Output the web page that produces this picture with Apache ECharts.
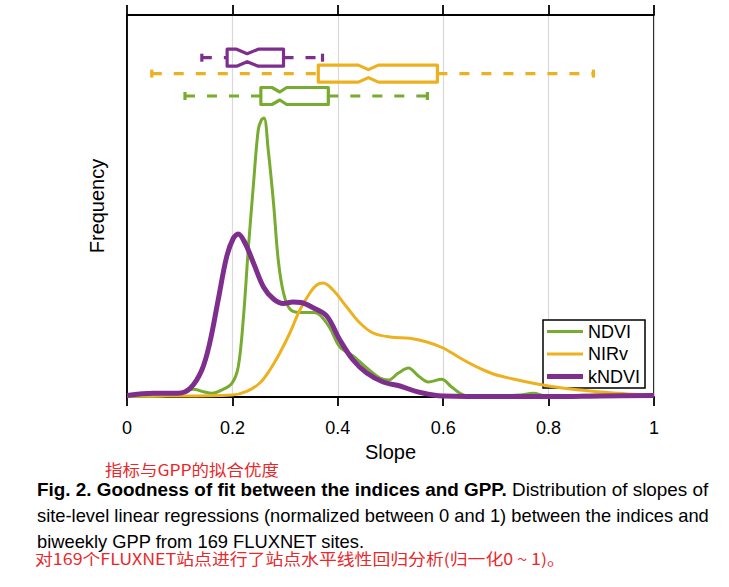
<!DOCTYPE html>
<html><head><meta charset="utf-8">
<script src="https://cdn.jsdelivr.net/npm/echarts@6/dist/echarts.min.js"></script>
<style>html,body{margin:0;padding:0;background:#fff}#c{width:729px;height:587px}</style>
</head><body><div id="c"></div>
<script>
// ---------- data ----------
const xTicks = [0, 0.2, 0.4, 0.6, 0.8, 1];
const seriesNames = ['NDVI', 'NIRv', 'kNDVI'];
// density curves: [slope, frequency]
const ndvi = [[0,0.5],[0.05,0.5],[0.1,3.5],[0.126,7.7],[0.145,5.3],[0.161,3.7],[0.18,7],[0.199,13.7],[0.211,30],[0.221,80],[0.230,147],[0.240,213],[0.249,267],[0.255,277],[0.260,279],[0.268,247],[0.278,194],[0.287,137],[0.297,104],[0.309,88],[0.328,84.5],[0.354,84.5],[0.366,82],[0.385,69],[0.404,50],[0.429,41],[0.455,29],[0.48,19],[0.496,17],[0.515,24],[0.534,29],[0.553,21],[0.572,15],[0.597,17.7],[0.616,10],[0.638,2],[0.66,0.3],[0.708,1],[0.746,2],[0.771,3.7],[0.796,1],[0.85,1.5],[0.9,2],[0.95,1.5],[1,1]];
const nirv = [[0,1],[0.1,1],[0.2,2],[0.227,5.7],[0.252,14],[0.271,27],[0.29,44],[0.309,64],[0.328,87],[0.347,104],[0.36,112],[0.372,114],[0.391,107],[0.417,90],[0.442,74],[0.467,64],[0.499,60],[0.537,58.7],[0.569,55],[0.6,49],[0.632,39],[0.664,30],[0.695,23],[0.733,18],[0.771,13.7],[0.8,11],[0.85,7.5],[0.9,5],[0.95,3],[1,2]];
const kndvi = [[0,1.5],[0.05,3.7],[0.097,3.7],[0.12,8.7],[0.142,27],[0.157,54],[0.173,97],[0.189,140],[0.202,159],[0.211,163],[0.224,154],[0.240,134],[0.259,110],[0.278,98],[0.297,93.5],[0.315,95],[0.33,94.5],[0.354,89],[0.379,81],[0.404,57],[0.429,37],[0.455,24],[0.486,15],[0.518,11],[0.55,5.3],[0.581,2],[0.6,1],[0.7,0.5],[0.8,0.5],[0.9,1],[1,1.5]];
// box statistics: [whiskerLow, q1, notchLow, median, notchHigh, q3, whiskerHigh]
const ndviBox  = [0.110, 0.254, 0.275, 0.290, 0.303, 0.382, 0.570];
const nirvBox  = [0.047, 0.363, 0.439, 0.458, 0.477, 0.589, 0.885];
const kndviBox = [0.142, 0.190, 0.208, 0.228, 0.249, 0.297, 0.371];

// ---------- style / layout ----------
const colors = ['#77AC30', '#EDB120', '#7E2F8E'];
const lineWidths = [3, 3, 5];
const legendIcons = ['path://M0,0H36V3H0Z', 'path://M0,0H36V3H0Z', 'path://M0,0H36V5H0Z'];
const boxRows = [301, 323.4, 339.3]; // vertical centre of each box row (frequency-axis units)
const FONT = 'Liberation Sans, Arial, Helvetica, sans-serif';

const chart = echarts.init(document.getElementById('c'), null, {renderer: 'svg'});

function makeBox(name, stats, row, color) {
  return {
    type: 'custom', name: name + ' box', data: [stats], silent: true, z: 5,
    encode: {x: [0, 1, 2, 3, 4, 5, 6]},
    renderItem(params, api) {
      const X = k => api.coord([api.value(k), row])[0];
      const yc = api.coord([0, row])[1];
      const h = 8.5, hi = 4, cap = 4;
      const wl = X(0), q1 = X(1), nl = X(2), md = X(3), nh = X(4), q3 = X(5), wh = X(6);
      const ls = {stroke: color, lineWidth: 3.2, fill: 'none'};
      return {type: 'group', children: [
        {type: 'line', shape: {x1: wl, y1: yc, x2: q1, y2: yc}, style: Object.assign({}, ls, {lineDash: [10, 12]})},
        {type: 'line', shape: {x1: q3, y1: yc, x2: wh, y2: yc}, style: Object.assign({}, ls, {lineDash: [10, 12]})},
        {type: 'line', shape: {x1: wl, y1: yc - cap, x2: wl, y2: yc + cap}, style: ls},
        {type: 'line', shape: {x1: wh, y1: yc - cap, x2: wh, y2: yc + cap}, style: ls},
        {type: 'polygon', shape: {points: [[q1, yc - h], [nl, yc - h], [md, yc - hi], [nh, yc - h], [q3, yc - h], [q3, yc + h], [nh, yc + h], [md, yc + hi], [nl, yc + h], [q1, yc + h]]},
          style: {stroke: color, fill: 'none', lineWidth: 3.2, lineJoin: 'round'}}
      ]};
    }
  };
}

// text fitting helper
const mctx = document.createElement('canvas').getContext('2d');
function tw(text, size, weight, family) {
  mctx.font = (weight || 'normal') + ' ' + size + 'px ' + family;
  return mctx.measureText(text).width;
}
const capFont = 'Liberation Sans, Arial, sans-serif';
const cnFont = '"Noto Sans CJK SC", sans-serif';
const capSize = 19;
const l1b = 'Fig. 2. Goodness of fit between the indices and GPP.';
const l1n = ' Distribution of slopes of';
const l2 = 'site-level linear regressions (normalized between 0 and 1) between the indices and';
const l3 = 'biweekly GPP from 169 FLUXNET sites.';
const cn1 = '指标与GPP的拟合优度';
const cn2 = '对169个FLUXNET站点进行了站点水平线性回归分析(归一化0 ~ 1)。';
const s1 = 671 / (tw(l1b, capSize, 'bold', capFont) + tw(l1n, capSize, 'normal', capFont));
const s2 = 672 / tw(l2, capSize, 'normal', capFont);
const cnSize = 15.5;
const sc1 = 174 / tw(cn1, cnSize, 'normal', cnFont);
const sc2 = 530 / tw(cn2, cnSize, 'normal', cnFont);

const lineSeries = [ndvi, nirv, kndvi].map((d, i) => ({
  type: 'line', name: seriesNames[i], data: d, smooth: 0.35, symbol: 'none', showSymbol: false,
  lineStyle: {color: colors[i], width: lineWidths[i]}, itemStyle: {color: colors[i]}, z: 3 + i
}));

chart.setOption({
  animation: false,
  backgroundColor: '#fff',
  grid: {left: 127, right: 75, top: 15, bottom: 190, show: true, borderColor: '#000', borderWidth: 1.8, backgroundColor: 'transparent'},
  legend: {
    data: seriesNames.map((n, i) => ({name: n, icon: legendIcons[i], itemStyle: {color: colors[i], borderWidth: 0}})),
    orient: 'vertical', left: 543, top: 320,
    itemWidth: 36, itemHeight: 14, itemGap: 3.5, padding: [2, 5, 2, 4],
    borderColor: '#000', borderWidth: 1.5, backgroundColor: '#fff', borderRadius: 0,
    textStyle: {fontSize: 18, lineHeight: 19, fontFamily: FONT, color: '#000'}
  },
  xAxis: [{
    type: 'value', min: 0, max: 1, interval: 0.2, position: 'bottom',
    name: 'Slope', nameLocation: 'middle', nameGap: 45,
    nameTextStyle: {fontSize: 20, fontFamily: FONT, color: '#000'},
    axisLine: {show: true, lineStyle: {color: '#000', width: 1.8}},
    axisTick: {show: true, inside: false, length: 9, lineStyle: {color: '#000', width: 1.8}},
    axisLabel: {show: true, margin: 22, fontSize: 18, fontFamily: FONT, color: '#000',
      formatter: v => String(xTicks.find(t => Math.abs(t - v) < 1e-9) ?? v)},
    splitLine: {show: true, lineStyle: {color: '#d9d9d9', width: 1.2}}
  }, {
    type: 'value', min: 0, max: 1, interval: 0.2, position: 'top',
    axisLine: {show: true, lineStyle: {color: '#000', width: 1.8}},
    axisTick: {show: true, inside: false, length: 10, lineStyle: {color: '#000', width: 1.8}},
    axisLabel: {show: false}, splitLine: {show: false}
  }],
  yAxis: {
    type: 'value', min: 0, max: 382,
    name: 'Frequency', nameLocation: 'middle', nameGap: 20, nameRotate: 90,
    nameTextStyle: {fontSize: 20, fontFamily: FONT, color: '#000'},
    axisLine: {show: true, lineStyle: {color: '#000', width: 1.8}},
    axisTick: {show: false}, axisLabel: {show: false}, splitLine: {show: false}
  },
  graphic: [
    {type: 'text', x: 105, y: 469, scaleX: sc1, originX: 0,
      style: {text: cn1, font: 'normal ' + cnSize + 'px ' + cnFont, fill: '#e8282b', verticalAlign: 'middle', align: 'left'}},
    {type: 'text', x: 37, y: 489, scaleX: s1, originX: 0,
      style: {text: '{b|' + l1b + '}{n|' + l1n + '}', verticalAlign: 'middle', align: 'left', fill: '#000',
        rich: {b: {fontWeight: 'bold', fontSize: capSize, fontFamily: capFont, fill: '#000'},
               n: {fontWeight: 'normal', fontSize: capSize, fontFamily: capFont, fill: '#000'}}}},
    {type: 'text', x: 37, y: 515.5, scaleX: s2, originX: 0,
      style: {text: l2, font: 'normal ' + capSize + 'px ' + capFont, fill: '#000', verticalAlign: 'middle', align: 'left'}},
    {type: 'text', x: 37, y: 541.5, scaleX: s2, originX: 0,
      style: {text: l3, font: 'normal ' + capSize + 'px ' + capFont, fill: '#000', verticalAlign: 'middle', align: 'left'}},
    {type: 'text', x: 35, y: 558.5, scaleX: sc2, originX: 0,
      style: {text: cn2, font: 'normal ' + cnSize + 'px ' + cnFont, fill: '#e8282b', verticalAlign: 'middle', align: 'left'}}
  ],
  series: lineSeries.concat([
    makeBox('NDVI', ndviBox, boxRows[0], colors[0]),
    makeBox('NIRv', nirvBox, boxRows[1], colors[1]),
    makeBox('kNDVI', kndviBox, boxRows[2], colors[2])
  ])
});
</script></body></html>
